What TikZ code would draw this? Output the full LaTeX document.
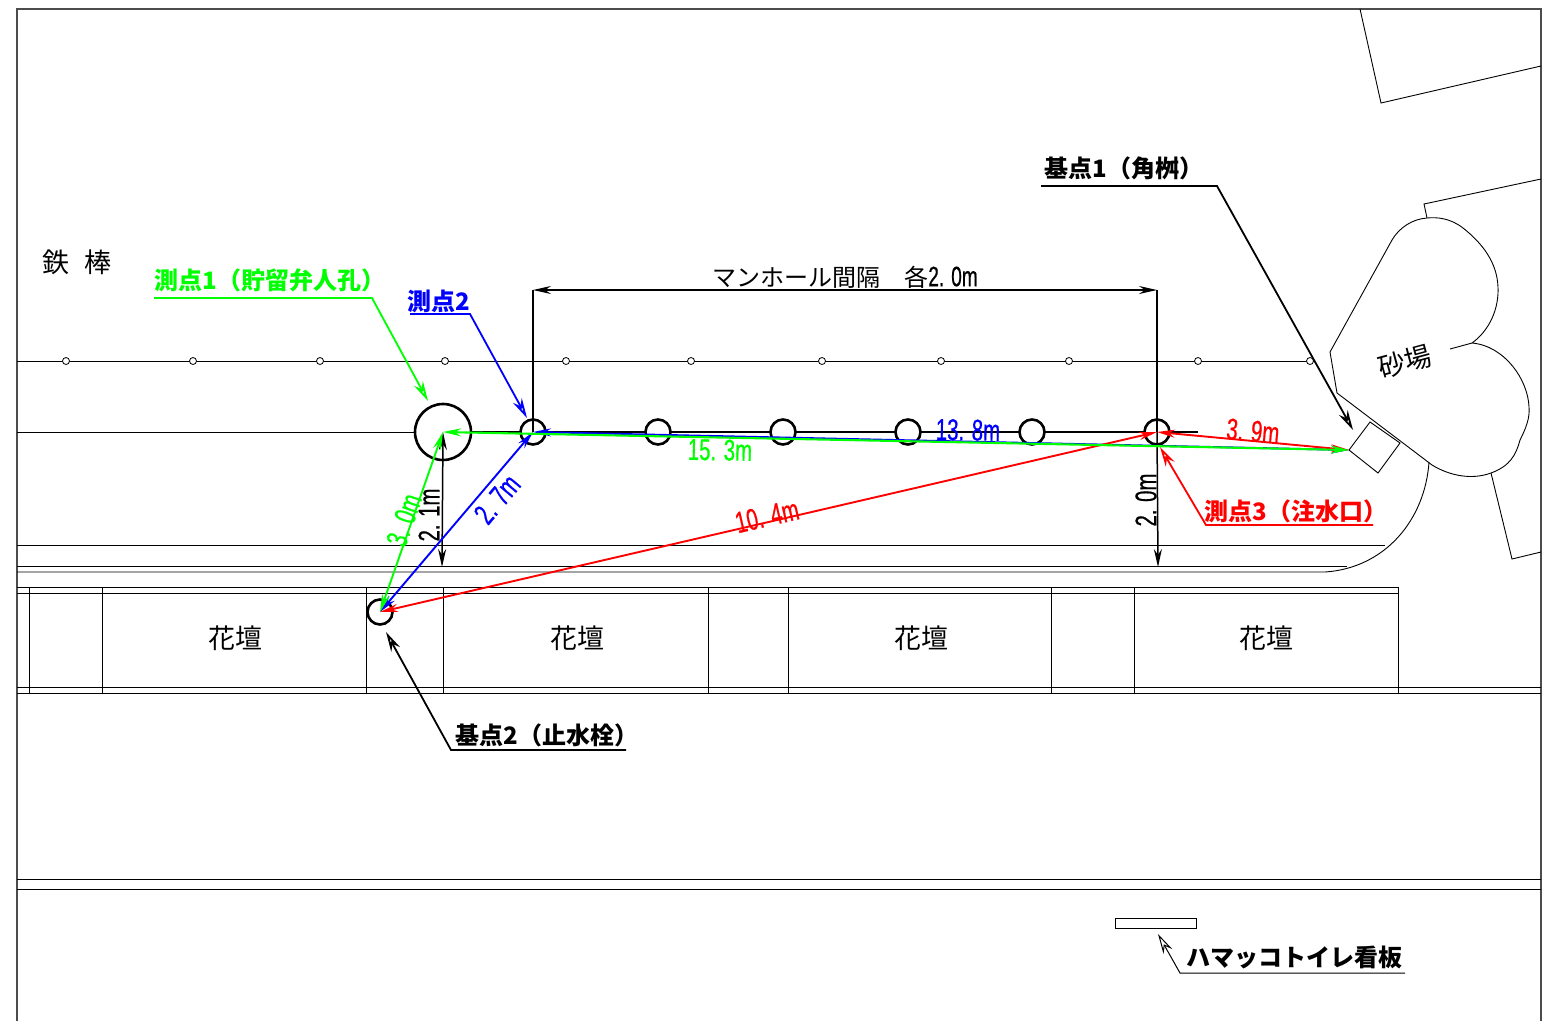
\documentclass[tikz,border=0pt]{standalone}
\usepackage{fontspec}
\setmainfont{Noto Sans CJK JP}
\newfontfamily\cadfont[FakeStretch=0.68,FakeBold=0.6]{Liberation Sans}
\usetikzlibrary{arrows.meta}

\definecolor{gpsgreen}{RGB}{0,255,0}
\definecolor{gpsblue}{RGB}{0,0,255}
\definecolor{gpsred}{RGB}{255,0,0}

\tikzset{
	thinline/.style={line width=0.9pt,black},
	hole/.style={circle,draw,line width=2.6pt,minimum size=25pt,inner sep=0pt},
	post/.style={circle,draw,line width=0.8pt,minimum size=7pt,inner sep=0pt},
	dimtip/.style={{Stealth[length=18pt,width=8pt]}-{Stealth[length=18pt,width=8pt]}},
	leader/.style={line width=1.8pt,-{Stealth[open,length=20pt,width=10pt]}},
	planlabel/.style={font=\fontsize{27}{27}\selectfont,inner sep=0pt},
	callout/.style={font=\fontsize{24}{24}\selectfont\bfseries,inner sep=0pt},
	dimlabel/.style={font=\fontsize{30}{30}\selectfont\cadfont,inner sep=0pt},
}

\begin{document}
\begin{tikzpicture}[x=1pt,y=-1pt]
	\useasboundingbox (0,0) rectangle (1560,1021);

	% frame
	\draw[line width=1.4pt,black!70] (17,1021) -- (17,9) -- (1541,9) -- (1541,1021);

	% rails and road
	\draw[thinline] (17,361) -- (1315,361);
	\draw[thinline] (17,432) -- (416,432);
	\draw[thinline] (17,545) -- (1385,545);
	\draw[thinline] (17,566) -- (1347,566);
	\draw[thinline] (17,572) -- (1325,572) .. controls (1385,568) and (1425,520) .. (1429,462);
	\draw[thinline] (17,879) -- (1541,879);
	\draw[thinline] (17,889) -- (1541,889);
	\foreach \px [count=\i] in {66,193,320,445,566,691,822,941,1069,1198,1310}
		\node[post,fill=white] (post\i) at (\px,361) {};

	% flower beds
	\draw[thinline] (17,587) -- (1398,587);
	\draw[thinline] (17,593) -- (1398,593);
	\draw[thinline] (17,687) -- (1541,687);
	\draw[thinline] (17,693) -- (1541,693);
	\foreach \px in {29.5,102.5,366,443.5,708,788,1051,1134,1398}
		\draw[thinline] (\px,587) -- (\px,693);
	\node[planlabel] (bed_a) at (235,638) {花壇};
	\node[planlabel] (bed_b) at (577,638) {花壇};
	\node[planlabel] (bed_c) at (921,638) {花壇};
	\node[planlabel] (bed_d) at (1266,638) {花壇};

	% buildings top right
	\draw[thinline] (1360,9) -- (1381,103) -- (1541,66);
	\draw[thinline] (1427,218) -- (1424,204) -- (1541,179);
	\draw[thinline] (1491,473) -- (1512,559) -- (1541,552);

	% sand pit
	\draw[thinline] (1450,349) -- (1472,343)
		.. controls (1490,330) and (1499,308) .. (1498,287)
		.. controls (1497,262) and (1482,243) .. (1463,228)
		.. controls (1450,218) and (1437,217) .. (1427,218)
		.. controls (1412,219) and (1399,228) .. (1392,240)
		-- (1330,352) -- (1337,393) -- (1432,465)
		.. controls (1450,476) and (1472,480) .. (1491,473)
		.. controls (1510,466) and (1516,455) .. (1520,440)
		.. controls (1526,428) and (1530,418) .. (1529,407)
		.. controls (1528,380) and (1505,346) .. (1472,343);
	\coordinate (box_a) at (1349,450);
	\draw[thinline] (box_a) -- (1370,422) -- (1400,443) -- (1378,473) -- cycle;
	\node[planlabel,rotate=15] (sand) at (1405,362) {砂場};

	% sign
	\draw[thinline] (1115,918) rectangle (1196,928);
	\node[planlabel] (rod) at (77,262) {鉄\hspace{16pt}棒};

	% holes
	\draw[line width=2.6pt] (471,432) -- (1198,432);
	\node[hole,minimum size=56pt,fill=white] (tank) at (443,432) {};
	\draw[line width=2.6pt] (471,432) -- (520,432);
	\foreach \px [count=\i] in {533,658,783,908,1032,1157}
		\node[hole,fill=white] (mh\i) at (\px,432) {};
	\node[hole] (base_two) at (380,612) {};
	\coordinate (pit) at (box_a);

	% dimensions
	\coordinate (dim_l) at (533,290);
	\coordinate (dim_r) at (1157,290);
	\coordinate (foot_a) at (442,567);
	\coordinate (foot_b) at (1158,567);
	\draw[line width=1.5pt] (mh1.center) -- (dim_l);
	\draw[line width=1.5pt] (mh6.center) -- (dim_r);
	\draw[line width=1.5pt,dimtip] (dim_l) -- (dim_r);
	\draw[line width=1.5pt,dimtip] (tank.center) -- (foot_a);
	\draw[line width=1.5pt,-{Stealth[length=18pt,width=8pt]}] (mh6.center) -- (foot_b);
	\node[font=\fontsize{24}{24}\selectfont,inner sep=0pt] (pitch) at (845,277) {マンホール間隔　各{\cadfont\fontsize{28}{28}\selectfont 2. 0m}};
	\node[dimlabel,rotate=90] (dim_two_a) at (429,515) {2. 1m};
	\node[dimlabel,rotate=90] (dim_two_b) at (1146,500) {2. 0m};

	% measured lines
	\draw[line width=1.9pt,gpsblue,dimtip] (base_two.center) -- (mh1.center);
	\draw[line width=1.9pt,gpsblue,dimtip] (mh1.center) -- (pit);
	\draw[line width=1.9pt,gpsred,dimtip] (base_two.center) -- (mh6.center);
	\draw[line width=1.9pt,gpsred,dimtip] (mh6.center) -- (pit);
	\draw[line width=1.9pt,gpsgreen,dimtip] (base_two.center) -- (tank.center);
	\draw[line width=2.1pt,gpsgreen,dimtip] (tank.center) -- (pit);
	\node[dimlabel,gpsgreen,rotate=-1] (len_a) at (720,450) {15. 3m};
	\node[dimlabel,gpsgreen,rotate=71] (len_b) at (404,520) {3. 0m};
	\node[dimlabel,gpsblue,rotate=-1] (len_c) at (968,430) {13. 8m};
	\node[dimlabel,gpsblue,rotate=50] (len_d) at (497,499) {2. 7m};
	\node[dimlabel,gpsred,rotate=-5] (len_e) at (1253,431) {3. 9m};
	\node[dimlabel,gpsred,rotate=13] (len_f) at (767,516) {10. 4m};

	% callouts
	\node[callout] (base_one_txt) at (1124,168) {基点1（角桝）};
	\coordinate (base_one_l) at (1041,186);
	\coordinate (base_one_r) at (1217,186);
	\coordinate (base_one_tip) at (1353,430);
	\draw[leader] (base_one_l) -- (base_one_r) -- (base_one_tip);

	\node[callout,gpsgreen] (pt_one_txt) at (270,280) {測点1（貯留弁人孔）};
	\coordinate (pt_one_l) at (154,298);
	\coordinate (pt_one_r) at (372,298);
	\coordinate (pt_one_tip) at (428,401);
	\draw[leader,gpsgreen] (pt_one_l) -- (pt_one_r) -- (pt_one_tip);

	\node[callout,gpsblue] (pt_two_txt) at (439,301) {測点2};
	\coordinate (pt_two_l) at (410,314);
	\coordinate (pt_two_r) at (470,314);
	\coordinate (pt_two_tip) at (527,418);
	\draw[leader,gpsblue] (pt_two_l) -- (pt_two_r) -- (pt_two_tip);

	\node[callout,gpsred] (pt_three_txt) at (1296,511) {測点3（注水口）};
	\coordinate (pt_three_l) at (1373,525);
	\coordinate (pt_three_r) at (1206,525);
	\coordinate (pt_three_tip) at (1160,447);
	\draw[leader,gpsred] (pt_three_l) -- (pt_three_r) -- (pt_three_tip);

	\node[callout] (base_two_txt) at (547,735) {基点2（止水栓）};
	\coordinate (base_two_r) at (626,750);
	\coordinate (base_two_l) at (451,750);
	\coordinate (base_two_tip) at (386,632);
	\draw[leader] (base_two_r) -- (base_two_l) -- (base_two_tip);

	\node[callout] (sign_txt) at (1294,957) {ハマッコトイレ看板};
	\coordinate (sign_r) at (1405,973);
	\coordinate (sign_l) at (1180,973);
	\coordinate (sign_tip) at (1158,934);
	\draw[line width=1pt,-{Stealth[open,length=20pt,width=10pt]}] (sign_r) -- (sign_l) -- (sign_tip);
\end{tikzpicture}
\end{document}
